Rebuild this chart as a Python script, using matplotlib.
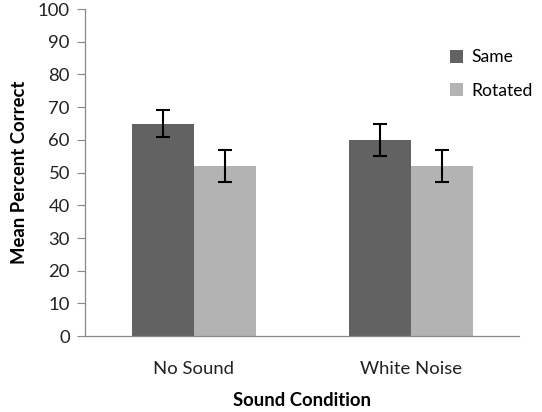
import numpy as np
import matplotlib
matplotlib.use("Agg")
import matplotlib.pyplot as plt

plt.rcParams['font.family'] = ['Lato', 'DejaVu Sans']

condiciones = ["No Sound", "White Noise"]
series = ["Same", "Rotated"]
medias = {"Same": [65, 60], "Rotated": [52, 52]}
errores = {"Same": [4, 5], "Rotated": [5, 5]}
colores = {"Same": "#626262", "Rotated": "#b3b3b3"}

fig = plt.figure(figsize=(5.42, 4.12), dpi=100)
ax = fig.add_axes([0.157, 0.184, 0.801, 0.794])

x = np.arange(len(condiciones))
ancho = 0.286
for i, s in enumerate(series):
    pos = x + (i - 0.5) * ancho
    ax.bar(pos, medias[s], width=ancho, color=colores[s], label=s)
    ax.errorbar(pos, medias[s], yerr=errores[s], fmt="none", ecolor="black",
                elinewidth=1.5, capsize=5, capthick=1.5)

ax.set_xlim(-0.5, 1.5)
ax.set_ylim(0, 100)
ax.set_yticks(range(0, 101, 10))
ax.set_xticks(x)
ax.set_xticklabels(condiciones)
ax.tick_params(axis="x", length=0, pad=18, labelsize=13.3, colors="#222222")
ax.tick_params(axis="y", length=6, width=0.8, color="#888888", labelsize=13.3,
               labelcolor="#222222", pad=5)
for lado in ["top", "right"]:
    ax.spines[lado].set_visible(False)
for lado in ["left", "bottom"]:
    ax.spines[lado].set_color("#888888")
    ax.spines[lado].set_linewidth(0.9)

ax.set_xlabel("Sound Condition", fontsize=13.3, fontweight="bold", labelpad=11)
ax.set_ylabel("Mean Percent Correct", fontsize=13.3, fontweight="bold", labelpad=7)

ax.legend(loc="upper left", bbox_to_anchor=(0.805, 0.925), frameon=False,
          fontsize=12.6, handlelength=0.75, handleheight=0.75, handletextpad=0.45,
          labelspacing=1.0)

fig.savefig("out.png", dpi=100)
